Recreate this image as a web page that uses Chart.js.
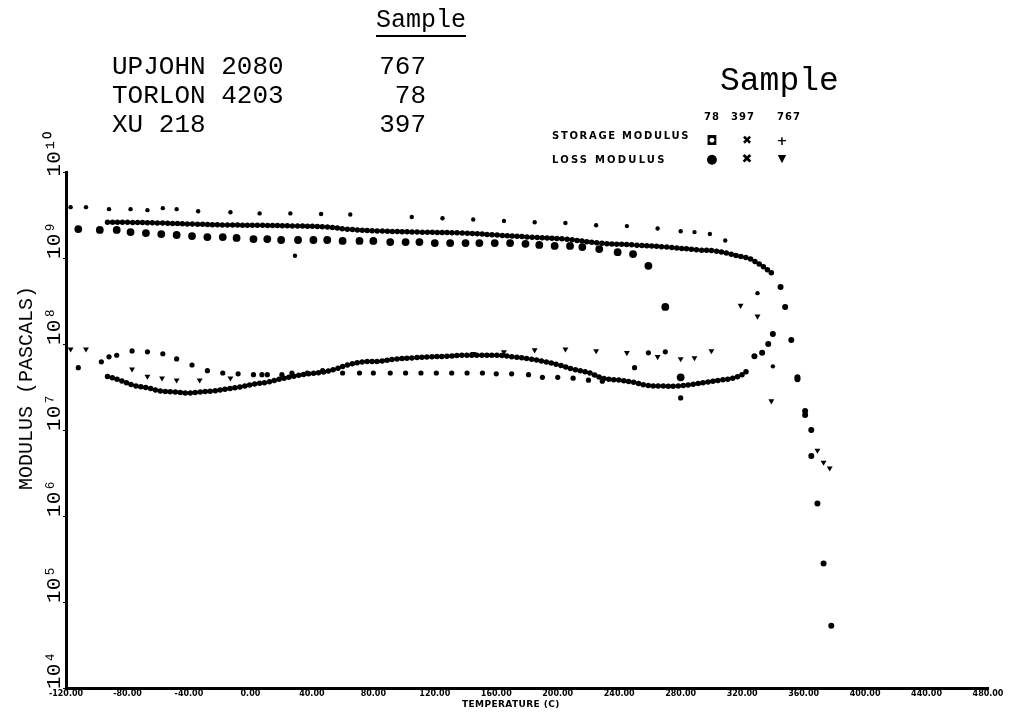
<!DOCTYPE html>
<html>
<head>
<meta charset="utf-8">
<script src="https://cdn.jsdelivr.net/npm/chart.js@4.4.1/dist/chart.umd.min.js"></script>
<style>
  html, body { margin: 0; padding: 0; background: #fff; }
  #wrap { position: relative; width: 1013px; height: 712px; overflow: hidden; background: #fff; }
  #chart { position: absolute; left: 0; top: 0; }
  .lbl { position: absolute; color: #000; white-space: pre; line-height: 1; }
  .mono { font-family: "Liberation Mono", "DejaVu Sans Mono", monospace; }
  .tiny { font-family: "DejaVu Sans", sans-serif; font-weight: bold; font-size: 10px; letter-spacing: 1.7px; }
  .mk { position: absolute; width: 20px; text-align: center; line-height: 1; color: #000; font-family: "DejaVu Sans", sans-serif; font-weight: bold; }
</style>
</head>
<body>
<div id="wrap">
  <canvas id="chart" width="1013" height="712"></canvas>

  <div class="lbl mono" style="left:376px; top:8px; font-size:25px; text-decoration:underline; text-decoration-thickness:2px; text-underline-offset:8px;">Sample</div>
  <div class="lbl mono" style="left:112px; top:54px; font-size:26px;">UPJOHN 2080</div>
  <div class="lbl mono" style="left:112px; top:83px; font-size:26px;">TORLON 4203</div>
  <div class="lbl mono" style="left:112px; top:112px; font-size:26px;">XU 218</div>
  <div class="lbl mono" style="right:587px; top:54px; font-size:26px;">767</div>
  <div class="lbl mono" style="right:587px; top:83px; font-size:26px;">78</div>
  <div class="lbl mono" style="right:587px; top:112px; font-size:26px;">397</div>

  <div class="lbl mono" style="left:720px; top:65px; font-size:33px;">Sample</div>
  <div class="lbl tiny" style="left:704px; top:112px; letter-spacing:1px;">78</div>
  <div class="lbl tiny" style="left:731px; top:112px; letter-spacing:1px;">397</div>
  <div class="lbl tiny" style="left:777px; top:112px; letter-spacing:1px;">767</div>
  <div class="lbl tiny" style="left:552px; top:131px;">STORAGE MODULUS</div>
  <div class="lbl tiny" style="left:552px; top:155px; letter-spacing:2.2px;">LOSS MODULUS</div>
  <div class="mk" style="left:702px; top:134px; font-size:13px;">◘</div>
  <div class="mk" style="left:737px; top:134px; font-size:12px;">✖</div>
  <div class="mk" style="left:772px; top:134px; font-size:13px;">+</div>
  <div class="mk" style="left:702px; top:152px; font-size:13px;">●</div>
  <div class="mk" style="left:737px; top:152px; font-size:13px;">✖</div>
  <div class="mk" style="left:772px; top:153px; font-size:11px;">▼</div>

  <div class="lbl mono" style="left:27px; top:388px; font-size:20px; transform:translate(-50%,-50%) rotate(-90deg);">MODULUS (PASCALS)</div>
  <div class="lbl" style="left:462px; top:700px; font-family:'DejaVu Sans',sans-serif; font-weight:bold; font-size:9px; letter-spacing:0.4px;">TEMPERATURE (C)</div>
</div>

<script>
// axis ticks
const xTicks = [-120, -80, -40, 0, 40, 80, 120, 160, 200, 240, 280, 320, 360, 400, 440, 480];
const xTickLabels = ['-120.00', '-80.00', '-40.00', '0.00', '40.00', '80.00', '120.00', '160.00',
  '200.00', '240.00', '280.00', '320.00', '360.00', '400.00', '440.00', '480.00'];
const yTicks = [1e4, 1e5, 1e6, 1e7, 1e8, 1e9, 1e10];
const yTickLabels = ['10⁴', '10⁵', '10⁶', '10⁷', '10⁸', '10⁹', '10¹⁰'];

// storage modulus, sample 767 (+)
const stor767T = [-117, -107, -92, -78, -67, -57, -48, -34, -13, 6, 26, 29, 46, 65, 105, 125, 145, 165, 185, 205,
  225, 245, 265, 280, 289, 299, 309, 330, 340];
const stor767M = [3.9e9, 3.9e9, 3.7e9, 3.7e9, 3.6e9, 3.8e9, 3.7e9, 3.5e9, 3.4e9, 3.3e9, 3.3e9, 1.06e9, 3.25e9, 3.2e9, 3.0e9, 2.9e9, 2.8e9, 2.7e9, 2.6e9, 2.55e9,
  2.4e9, 2.35e9, 2.2e9, 2.05e9, 2.0e9, 1.9e9, 1.6e9, 3.9e8, 5.5e7];

// storage modulus, sample 397 (dense trace, then the drop)
const stor397T = [-93, -80, -59, -37, -15, 6, 28, 50, 62, 84, 110, 138, 160, 182, 205, 227, 249, 271, 292, 302,
  310, 320, 324, 328, 333, 336, 341];
const stor397M = [2.6e9, 2.6e9, 2.55e9, 2.48e9, 2.42e9, 2.4e9, 2.36e9, 2.3e9, 2.17e9, 2.06e9, 2.0e9, 1.95e9, 1.85e9, 1.75e9, 1.66e9, 1.49e9, 1.42e9, 1.34e9, 1.24e9, 1.21e9,
  1.14e9, 1.03e9, 1.0e9, 9.2e8, 8.1e8, 7.4e8, 6.3e8];
const stor397DropT = [345, 348, 356, 361, 365, 365, 369, 373, 378];
const stor397DropM = [4.6e8, 2.7e8, 4.1e7, 1.66e7, 1.0e7, 5.0e6, 1.4e6, 2.8e5, 5.3e4];

// storage modulus, sample 78
const stor78T = [-112, -98, -87, -78, -68, -58, -48, -38, -28, -18, -9, 2, 11, 20, 31, 41, 50, 60, 71, 80,
  91, 101, 110, 120, 130, 140, 149, 159, 169, 179, 188, 198, 208, 216, 227, 239, 249, 259, 270, 280];
const stor78M = [2.17e9, 2.12e9, 2.12e9, 2.0e9, 1.95e9, 1.9e9, 1.85e9, 1.8e9, 1.75e9, 1.75e9, 1.71e9, 1.66e9, 1.66e9, 1.62e9, 1.62e9, 1.62e9, 1.62e9, 1.58e9, 1.58e9, 1.58e9,
  1.53e9, 1.53e9, 1.53e9, 1.49e9, 1.49e9, 1.49e9, 1.49e9, 1.49e9, 1.49e9, 1.46e9, 1.42e9, 1.38e9, 1.38e9, 1.34e9, 1.27e9, 1.17e9, 1.11e9, 8.1e8, 2.7e8, 4.1e7];

// loss modulus, sample 397 (dense trace, then the peak)
const loss397T = [-93, -85, -76, -67, -59, -50, -41, -33, -24, -15, -7, 2, 11, 19, 28, 37, 47, 55, 63, 73,
  84, 95, 106, 117, 128, 138, 149, 160, 171, 182, 192, 201, 210, 221, 229, 240, 249, 258, 267, 278,
  288, 297, 306, 314, 321, 324];
const loss397M = [4.2e7, 3.8e7, 3.3e7, 3.1e7, 2.84e7, 2.77e7, 2.69e7, 2.77e7, 2.84e7, 3.0e7, 3.16e7, 3.4e7, 3.6e7, 3.9e7, 4.2e7, 4.5e7, 4.7e7, 5.1e7, 5.7e7, 6.2e7,
  6.3e7, 6.7e7, 6.9e7, 7.1e7, 7.2e7, 7.4e7, 7.4e7, 7.4e7, 7.1e7, 6.7e7, 6.2e7, 5.7e7, 5.1e7, 4.6e7, 4.0e7, 3.8e7, 3.6e7, 3.3e7, 3.25e7, 3.25e7,
  3.4e7, 3.6e7, 3.8e7, 4.0e7, 4.5e7, 5.1e7];
const loss397PeakT = [328, 333, 337, 340, 352, 356, 361];
const loss397PeakM = [7.2e7, 7.9e7, 1.0e8, 1.31e8, 1.11e8, 3.9e7, 1.49e7];

// loss modulus, sample 78
const loss78T = [-112, -97, -92, -87, -77, -67, -57, -48, -38, -28, -18, -8, 2, 7.5, 11, 20.5, 27, 37, 47, 60,
  71, 80, 91, 101, 111, 121, 131, 141, 151, 160, 170, 181, 190, 200, 210, 220, 229, 250, 259, 270, 280];
const loss78M = [5.3e7, 6.2e7, 7.1e7, 7.4e7, 8.3e7, 8.1e7, 7.7e7, 6.7e7, 5.7e7, 4.9e7, 4.6e7, 4.5e7, 4.4e7, 4.4e7, 4.4e7, 4.4e7, 4.6e7, 4.6e7, 4.9e7, 4.6e7,
  4.6e7, 4.6e7, 4.6e7, 4.6e7, 4.6e7, 4.6e7, 4.6e7, 4.6e7, 4.6e7, 4.5e7, 4.5e7, 4.4e7, 4.1e7, 4.1e7, 4.0e7, 3.8e7, 3.7e7, 5.3e7, 7.9e7, 8.1e7, 2.36e7];

// loss modulus, sample 767 (down triangles)
const loss767T = [-117, -107, -77, -67, -57.5, -48, -33, -13, 145, 165, 185, 205, 225, 245, 265, 280, 289, 300, 319, 330,
  339, 369, 373, 377];
const loss767M = [8.7e7, 8.7e7, 5.1e7, 4.2e7, 4.0e7, 3.8e7, 3.8e7, 4.0e7, 7.7e7, 8.1e7, 8.5e7, 8.7e7, 8.3e7, 7.9e7, 7.1e7, 6.7e7, 6.9e7, 8.3e7, 2.8e8, 2.1e8,
  2.17e7, 5.8e6, 4.2e6, 3.6e6];

const pts = (t, m) => t.map((x, i) => ({ x, y: m[i] }));

function dots(t, m, r, style) {
  return {
    data: pts(t, m), showLine: false,
    pointStyle: style || 'circle', pointRotation: style === 'triangle' ? 180 : 0,
    pointRadius: r, pointBackgroundColor: '#000', pointBorderColor: '#000', pointBorderWidth: 0
  };
}

function trace(t, m) {
  // closely packed plotter dots drawn as a beaded line
  return {
    data: pts(t, m), showLine: true, pointRadius: 0,
    borderColor: '#000', borderWidth: 5.5, borderDash: [0, 5], borderCapStyle: 'round',
    borderJoinStyle: 'round', tension: 0.35
  };
}

new Chart(document.getElementById('chart'), {
  type: 'scatter',
  data: {
    datasets: [
      dots(stor767T, stor767M, 2.2),
      trace(stor397T, stor397M),
      dots(stor397DropT, stor397DropM, 3),
      dots(stor78T, stor78M, 3.9),
      trace(loss397T, loss397M),
      dots(loss397PeakT, loss397PeakM, 3),
      dots(loss78T, loss78M, 2.6),
      dots(loss767T, loss767M, 3.4, 'triangle')
    ]
  },
  options: {
    responsive: false,
    animation: false,
    layout: { padding: { top: 172, right: 25, left: 0, bottom: 0 } },
    plugins: { legend: { display: false }, tooltip: { enabled: false } },
    scales: {
      x: {
        type: 'linear', min: -120, max: 480,
        afterBuildTicks: s => { s.ticks = xTicks.map(v => ({ value: v })); },
        afterFit: s => { s.height = 24; },
        border: { display: true, color: '#000', width: 3 },
        grid: { display: true, drawOnChartArea: false, drawTicks: true, tickLength: 1, color: '#000' },
        ticks: {
          autoSkip: false, minRotation: 0, maxRotation: 0, padding: 0, color: '#000',
          font: { family: 'DejaVu Sans', weight: 'bold', size: 8 },
          callback: (v, i) => xTickLabels[i]
        }
      },
      y: {
        type: 'logarithmic', min: 1e4, max: 1e10,
        afterBuildTicks: s => { s.ticks = yTicks.map(v => ({ value: v })); },
        afterFit: s => { s.width = 66; },
        border: { display: true, color: '#000', width: 3 },
        grid: { display: true, drawOnChartArea: false, drawTicks: true, tickLength: 3, color: '#000' },
        ticks: {
          autoSkip: false, minRotation: 90, maxRotation: 90, crossAlign: 'center',
          padding: -14, labelOffset: -18, color: '#000',
          font: { family: 'Liberation Mono', size: 21 },
          callback: (v, i) => yTickLabels[i]
        }
      }
    }
  }
});
</script>
</body>
</html>
